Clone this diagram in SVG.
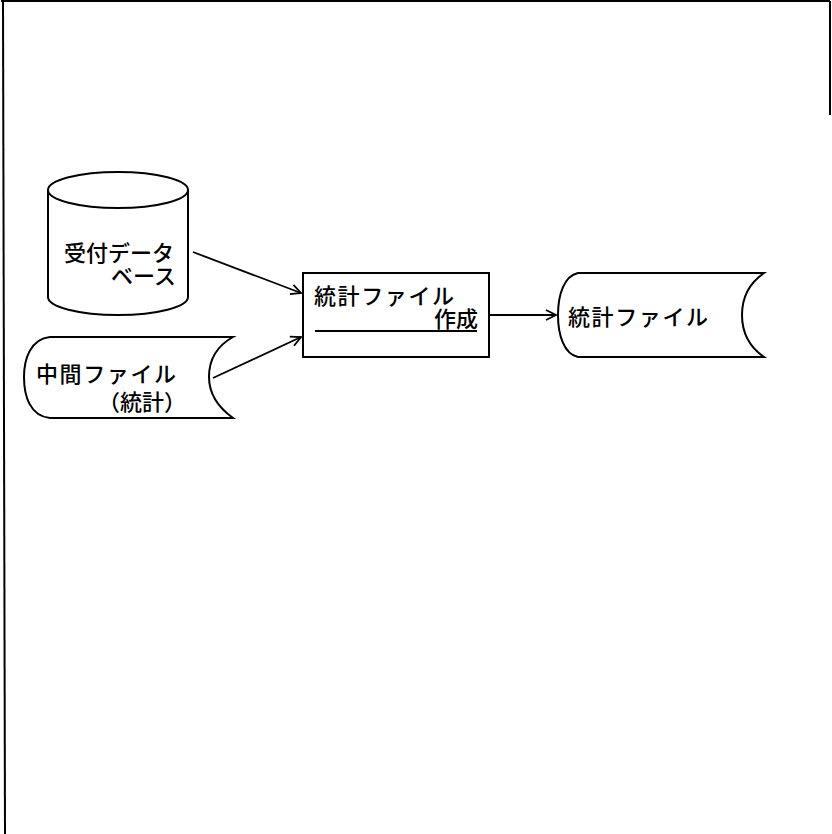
<svg xmlns="http://www.w3.org/2000/svg" width="832" height="834" viewBox="0 0 832 834">
<defs>
<style>
.s{fill:#fff;stroke:#000;stroke-width:2}
.t{font-family:"Noto Sans CJK JP","Noto Sans CJK SC",sans-serif;font-size:22px;font-weight:500;fill:#000}
.w{letter-spacing:1.6px}
.c{fill:none;stroke:#000;stroke-width:1.8}
</style>
<marker id="ah" viewBox="0 0 12 12" refX="11" refY="6" markerWidth="12" markerHeight="12" markerUnits="userSpaceOnUse" orient="auto">
<path d="M1,1 L11,6 L1,11" fill="none" stroke="#000" stroke-width="1.8"/>
</marker>
</defs>
<rect width="832" height="834" fill="#fff"/>
<g id="frame" fill="none" stroke="#000" stroke-width="2">
<path d="M1,1 L830,1"/>
<path d="M3,1 L5,834"/>
<path d="M830,1 L830,115"/>
</g>
<g id="uketsuke-db">
<path class="s" d="M48,190 L48,297 A70,18 0 0 0 188,297 L188,190"/>
<ellipse class="s" cx="118" cy="190" rx="70" ry="18"/>
<text class="t" x="174" y="261" text-anchor="end">受付データ</text>
<text class="t" x="176" y="284" text-anchor="end">ベース</text>
</g>
<g id="chukan-file">
<path class="s" d="M233,337 L50,337 C30,339 24,360 24,377 C24,396 30,416 50,418 L233,418 C215,405 209,390 209,377 C209,362 215,347 233,337 Z"/>
<text class="t w" x="36" y="382">中間ファイル</text>
<text class="t" x="186" y="410" text-anchor="end">（統計）</text>
</g>
<g id="toukei-sakusei">
<rect class="s" x="303" y="273" width="186" height="84"/>
<text class="t w" x="314" y="304">統計ファイル</text>
<text class="t" x="478" y="327" text-anchor="end">作成</text>
<line x1="315" y1="331" x2="477" y2="331" stroke="#000" stroke-width="2"/>
</g>
<g id="toukei-file">
<path class="s" d="M764,273 L578,273 C564,276 558,295 558,315 C558,335 564,354 578,357 L764,357 C748,346 742,330 742,315 C742,300 748,284 764,273 Z"/>
<text class="t w" x="568" y="325">統計ファイル</text>
</g>
<g id="connectors">
<line class="c" x1="193" y1="252" x2="301" y2="293" marker-end="url(#ah)"/>
<line class="c" x1="213" y1="378" x2="301" y2="337" marker-end="url(#ah)"/>
<line class="c" x1="489" y1="315" x2="556" y2="315" marker-end="url(#ah)"/>
</g>
</svg>
